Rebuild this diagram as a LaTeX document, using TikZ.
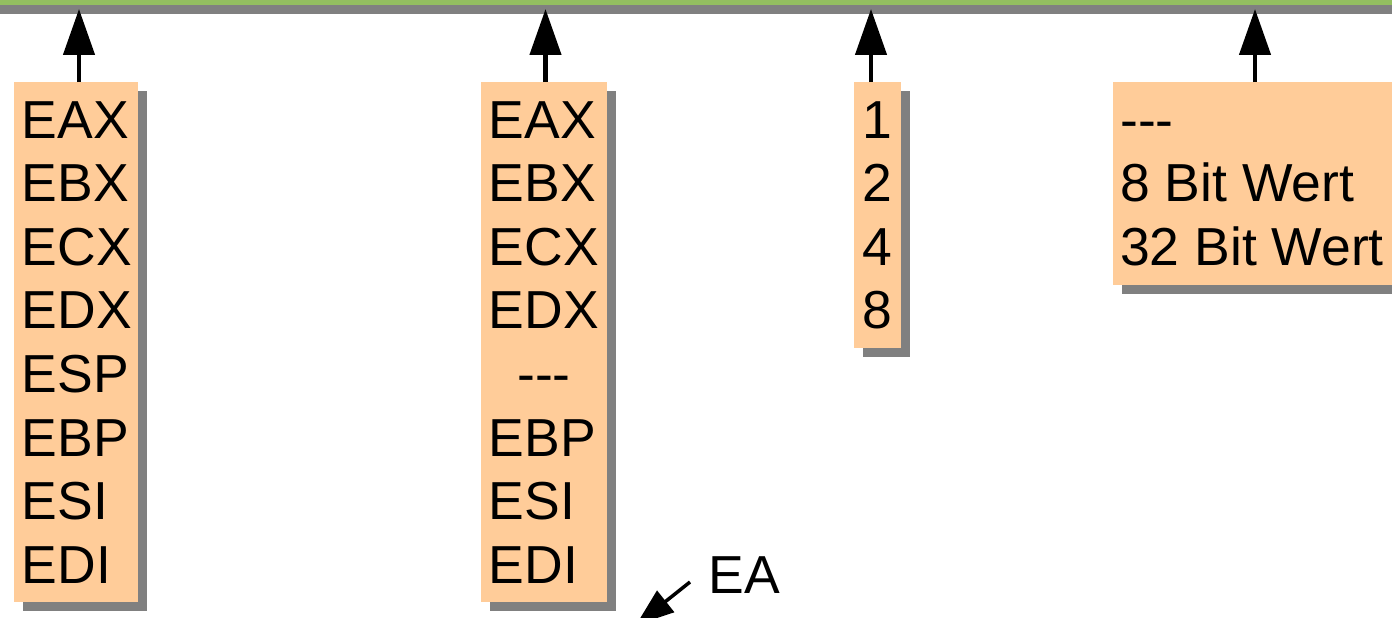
\documentclass[tikz,border=0pt]{standalone}
\usepackage{fontspec}
\setmainfont{Liberation Sans}
\usetikzlibrary{arrows.meta,shadows}
\definecolor{boxfill}{HTML}{FFCC99}
\definecolor{shadowgray}{HTML}{808080}
\definecolor{bargreen}{HTML}{93BE60}
\begin{document}
\begin{tikzpicture}[x=1pt,y=-1pt,
  panel/.style={fill=boxfill, draw=none, inner sep=0pt, anchor=north west,
    drop shadow={shadow xshift=9pt, shadow yshift=-9pt, fill=shadowgray, opacity=1}},
  lbl/.style={inner sep=0pt, font=\fontsize{53.5}{62}\selectfont},
  uparrow/.style={line width=4.5pt, -{Triangle[length=46pt,width=31pt]}},
  eaarrow/.style={line width=3.5pt, -{Triangle[length=38pt,width=27pt]}},
]
\useasboundingbox (0,0) rectangle (1392,618);
\clip (0,0) rectangle (1392,618);
% top bar
\node[fill=bargreen, inner sep=0pt, anchor=north west, minimum width=1480pt, minimum height=64.5pt,
  drop shadow={shadow xshift=0pt, shadow yshift=-9pt, fill=shadowgray, opacity=1}] (bar) at (-40,-60) {};
% boxes
\node[panel, minimum width=124pt, minimum height=520pt] (b1) at (14,82) {};
\node[panel, minimum width=126pt, minimum height=520pt] (b2) at (481,82) {};
\node[panel, minimum width=47pt, minimum height=266pt] (b3) at (854,82) {};
\node[panel, minimum width=320pt, minimum height=203pt] (b4) at (1113,82) {};
% texts box 1
\foreach \t [count=\i from 0] in {EAX,EBX,ECX,EDX,ESP,EBP,ESI,EDI}
  \node[lbl, anchor=base west] (a\i) at (21.5,{138+63.6*\i}) {\t};
% texts box 2
\foreach \t [count=\i from 0] in {EAX,EBX,ECX,EDX}
  \node[lbl, anchor=base west] (c\i) at (488.5,{138+63.6*\i}) {\t};
\node[lbl, anchor=base] (c4) at (544,{138+63.6*4}) {-{}-{}-};
\foreach \t [count=\i from 5] in {EBP,ESI,EDI}
  \node[lbl, anchor=base west] (c\i) at (488.5,{138+63.6*\i}) {\t};
% texts box 3
\foreach \t [count=\i from 0] in {1,2,4,8}
  \node[lbl, anchor=base] (d\i) at (877,{138+63.6*\i}) {\t};
% texts box 4
\node[lbl, anchor=base west] (e0) at (1120,138) {-{}-{}-};
\node[lbl, anchor=base west] (e1) at (1120,201.6) {8 Bit Wert};
\node[lbl, anchor=base west] (e2) at (1120,265.2) {32 Bit Wert};
% EA label
\node[lbl, anchor=base west] (ea) at (708.5,593) {EA};
% arrows
\coordinate (t1) at (79,9);
\coordinate (t2) at (545.5,9);
\coordinate (t3) at (871,9);
\coordinate (t4) at (1255,9);
\draw[uparrow] (t1 |- b1.north) -- (t1);
\draw[uparrow] (t2 |- b2.north) -- (t2);
\draw[uparrow] (t3 |- b3.north) -- (t3);
\draw[uparrow] (t4 |- b4.north) -- (t4);
\coordinate (ea1) at (690,582);
\coordinate (ea2) at (636,625);
\draw[eaarrow] (ea1) -- (ea2);
\end{tikzpicture}
\end{document}
